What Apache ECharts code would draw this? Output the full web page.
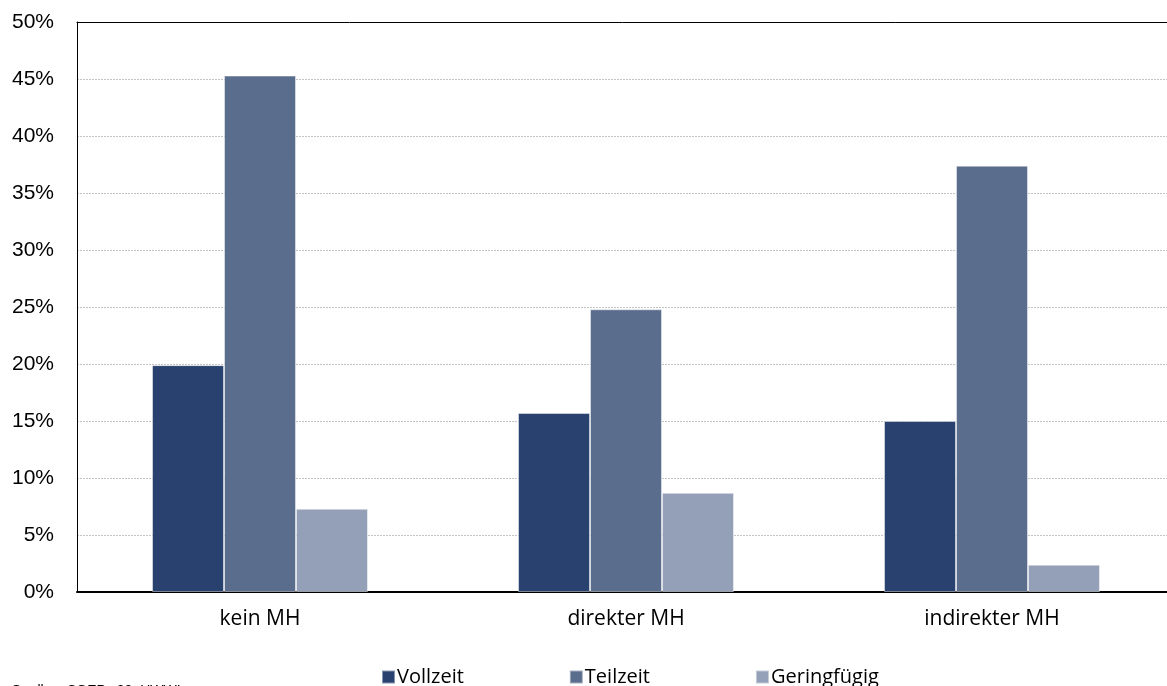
<!DOCTYPE html>
<html>
<head>
<meta charset="utf-8">
<script src="https://cdn.jsdelivr.net/npm/echarts@6/dist/echarts.min.js"></script>
<style>
  html, body { margin: 0; padding: 0; background: #fff; }
  #chart { width: 1167px; height: 686px; }
</style>
</head>
<body>
<div id="chart"></div>
<script>
var categories = ["kein MH", "direkter MH", "indirekter MH"];
var vollzeit = [19.9, 15.7, 15.0];
var teilzeit = [45.3, 24.8, 37.4];
var geringfuegig = [7.3, 8.7, 2.4];
var sourceNote = "Quellen: SOEP v33; HWWI.";

var chart = echarts.init(document.getElementById("chart"));

var labelFont = "'Open Sans', 'Liberation Sans', sans-serif";

function barSeries(name, data, color) {
  return {
    name: name,
    type: "bar",
    data: data,
    barGap: "0%",
    barCategoryGap: "41%",
    itemStyle: {
      color: color,
      borderColor: "rgba(255,255,255,0.45)",
      borderWidth: 1,
    },
  };
}

var option = {
  animation: false,
  backgroundColor: "#fff",
  grid: {
    left: 77,
    top: 22,
    right: -8,
    bottom: 94,
    outerBoundsMode: "none",
  },
  legend: {
    left: 376,
    top: 662,
    itemWidth: 13,
    itemHeight: 13,
    itemGap: 105,
    icon: "rect",
    textStyle: {
      fontFamily: labelFont,
      fontSize: 20,
      color: "#000",
      padding: [0, 0, 0, -3],
    },
    data: ["Vollzeit", "Teilzeit", "Geringfügig"],
  },
  graphic: [
    {
      type: "text",
      left: 11,
      top: 684,
      style: {
        text: sourceNote,
        fontFamily: "'Liberation Sans', sans-serif",
        fontSize: 14,
        fill: "#000",
      },
    },
  ],
  xAxis: [
    {
      type: "category",
      data: categories,
      axisLine: { lineStyle: { color: "#000", width: 2 } },
      axisTick: { show: false },
      axisLabel: {
        margin: 17,
        fontFamily: labelFont,
        fontSize: 21,
        color: "#000",
      },
    },
    {
      // obere Rahmenlinie
      type: "category",
      position: "top",
      data: categories,
      axisLine: { show: true, lineStyle: { color: "#000", width: 1 } },
      axisTick: { show: false },
      axisLabel: { show: false },
    },
  ],
  yAxis: {
    type: "value",
    min: 0,
    max: 50,
    interval: 5,
    axisLine: { show: true, lineStyle: { color: "#000", width: 1 } },
    axisTick: { show: false },
    axisLabel: {
      margin: 23,
      formatter: "{value}%",
      fontFamily: "'Liberation Sans', sans-serif",
      fontSize: 21,
      color: "#000",
    },
    splitLine: {
      show: true,
      showMinLine: false,
      showMaxLine: false,
      lineStyle: { color: "#c4c4c4", type: [2, 1], width: 1 },
    },
  },
  series: [
    barSeries("Vollzeit", vollzeit, "#29416f"),
    barSeries("Teilzeit", teilzeit, "#5b6d8d"),
    barSeries("Geringfügig", geringfuegig, "#94a0b7"),
  ],
};

chart.setOption(option);
</script>
</body>
</html>
